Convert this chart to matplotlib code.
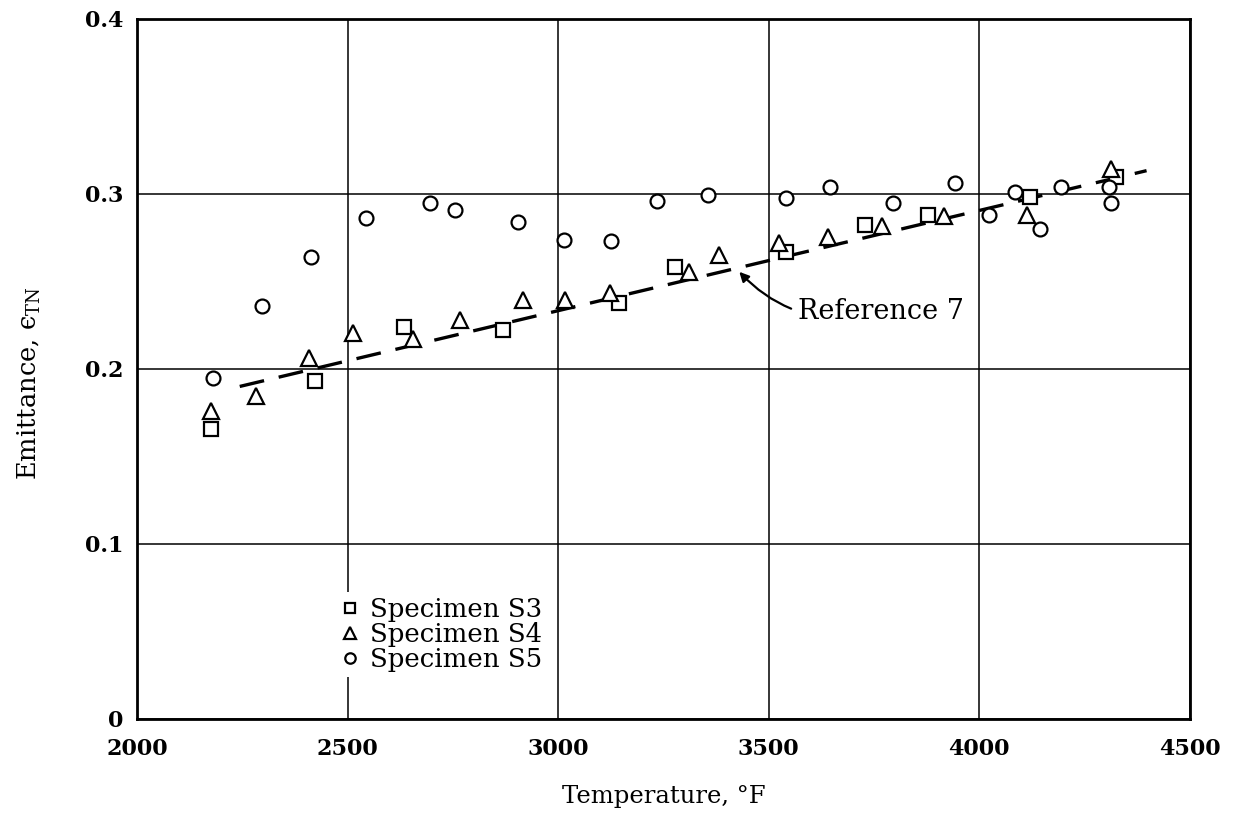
import numpy as np
import matplotlib
matplotlib.use('Agg')
import matplotlib.pyplot as plt

# Specimen S3 (squares)
s3_temp = [2176, 2422, 2635, 2869, 3145, 3277, 3540, 3728, 3877, 4120, 4324]
s3_emit = [0.1655, 0.193, 0.224, 0.222, 0.2375, 0.2585, 0.267, 0.282, 0.288, 0.2985, 0.3096]

# Specimen S4 (triangles)
s4_temp = [2176, 2282, 2408, 2513, 2655, 2766, 2916, 3016, 3123, 3311, 3382,
           3525, 3641, 3769, 3915, 4112, 4313]
s4_emit = [0.176, 0.1846, 0.2065, 0.2208, 0.217, 0.228, 0.2394, 0.2394, 0.2436, 0.2556, 0.2651,
           0.2718, 0.2752, 0.2817, 0.2874, 0.288, 0.314]

# Specimen S5 (circles)
s5_temp = [2180, 2297, 2413, 2544, 2695, 2756, 2905, 3013, 3125, 3235, 3356, 3542,
           3646, 3795, 3942, 4023, 4085, 4143, 4193, 4308, 4313]
s5_emit = [0.195, 0.236, 0.264, 0.2865, 0.2947, 0.291, 0.284, 0.2737, 0.2733, 0.296, 0.2994, 0.2975,
           0.3038, 0.2947, 0.3065, 0.288, 0.3013, 0.28, 0.3042, 0.3042, 0.295]

# Reference 7 line
ref_temp = [2244, 4397]
ref_emit = [0.190, 0.3133]

xticks = [2000, 2500, 3000, 3500, 4000, 4500]
yticks = [0, 0.1, 0.2, 0.3, 0.4]
ytick_labels = ['0', '0.1', '0.2', '0.3', '0.4']

plt.rcParams['font.family'] = 'DejaVu Serif'
plt.rcParams['mathtext.fontset'] = 'dejavuserif'

fig = plt.figure(figsize=(12.34, 8.23), dpi=100)
ax = fig.add_axes([0.111, 0.1264, 0.8533, 0.8506])

ax.plot(ref_temp, ref_emit, color='black', lw=2.4, dashes=(7.5, 4.5), zorder=2)

mk = dict(mfc='white', mec='black', mew=1.6, ls='none', zorder=3)
ax.plot(s3_temp, s3_emit, marker='s', ms=10, label='Specimen S3', **mk)
ax.plot(s4_temp, s4_emit, marker='^', ms=11, label='Specimen S4', **mk)
ax.plot(s5_temp, s5_emit, marker='o', ms=10, label='Specimen S5', **mk)

ax.annotate('Reference 7', xy=(3430, 0.2555), xytext=(3569, 0.2326),
            fontsize=19.5, va='center', ha='left',
            arrowprops=dict(arrowstyle='-|>', color='black', lw=1.6, mutation_scale=14,
                            connectionstyle='arc3,rad=-0.3', shrinkA=3, shrinkB=0))

ax.set_xlim(2000, 4500)
ax.set_ylim(0, 0.4)
ax.set_xticks(xticks)
ax.set_yticks(yticks)
ax.set_yticklabels(ytick_labels)
ax.grid(True, color='black', lw=1.1)
ax.set_axisbelow(True)
ax.tick_params(length=0, labelsize=16)
ax.tick_params(axis='x', pad=14)
ax.tick_params(axis='y', pad=10)
for lab in ax.get_xticklabels() + ax.get_yticklabels():
    lab.set_fontweight('bold')
for sp in ax.spines.values():
    sp.set_linewidth(2)

ax.set_xlabel('Temperature, °F', fontsize=17.5, labelpad=18)
ax.set_ylabel(r'Emittance, $\mathrm{ϵ}_{\mathrm{TN}}$', fontsize=18.5)
ax.yaxis.set_label_coords(-0.089, 0.48)

leg = ax.legend(loc='upper left', bbox_to_anchor=(0.175, 0.2), fontsize=18.7,
                frameon=True, fancybox=False, edgecolor='none', facecolor='white',
                framealpha=1, handlelength=0.8, handletextpad=0.38, labelspacing=0.0,
                borderpad=0.2, markerscale=0.75)

fig.savefig('out.png', dpi=100)
